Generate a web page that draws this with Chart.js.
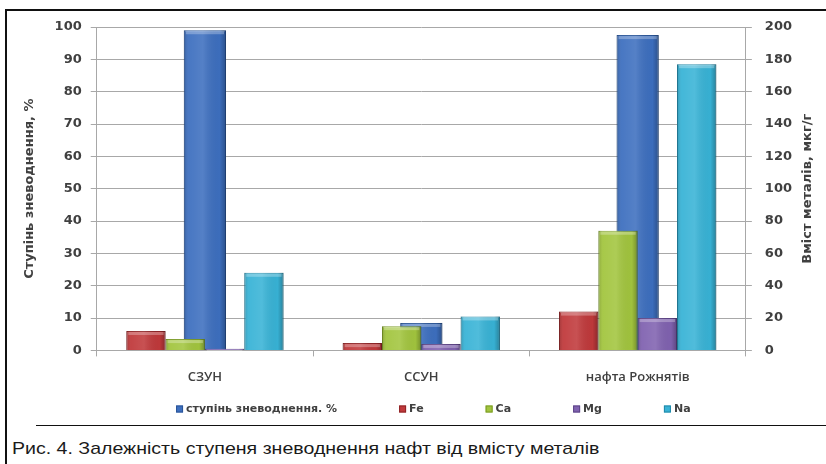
<!DOCTYPE html>
<html>
<head>
<meta charset="utf-8">
<script src="https://cdn.jsdelivr.net/npm/chart.js@4/dist/chart.umd.min.js"></script>
<style>
  html, body { margin: 0; padding: 0; background: #fff; }
  #page { position: relative; width: 826px; height: 464px; overflow: hidden; background: #fff; }
  #frameTop { position: absolute; left: 5px; top: 9px; width: 821px; height: 2px; background: #111; }
  #frameLeft { position: absolute; left: 5px; top: 9px; width: 2px; height: 455px; background: #111; }
  #sep { position: absolute; left: 36px; top: 425px; width: 790px; height: 1px; background: #111; }
  #box { position: absolute; left: 7px; top: 11px; width: 815px; height: 413px; }
  #caption { position: absolute; left: 12px; top: 440px; font-family: "Liberation Sans", Arial, sans-serif; font-size: 17px; line-height: 17px; color: #1a1a1a; white-space: nowrap; transform: scaleX(1.15); transform-origin: 0 0; }
</style>
</head>
<body>
<div id="page">
  <div id="frameTop"></div>
  <div id="frameLeft"></div>
  <div id="box"><canvas id="chart"></canvas></div>
  <div id="sep"></div>
  <div id="caption">Рис. 4. Залежність ступеня зневоднення нафт від вмісту металів</div>
</div>
<script>
// Samples
const categories = ['СЗУН', 'ССУН', 'нафта Рожнятів'];
// Degree of dehydration, % (left axis)
const dehydration = [99, 8.5, 97.5];
// Metal content, µg/g (right axis)
const fe = [12, 4.5, 24];
const ca = [7, 15, 74];
const mg = [1, 4, 20];
const na = [48, 21, 177];

const leftTicks = [0, 10, 20, 30, 40, 50, 60, 70, 80, 90, 100];
const rightTicks = [0, 20, 40, 60, 80, 100, 120, 140, 160, 180, 200];

const textColor = '#404040';
const gridColor = '#a8a8a8';
const wideFont = '"DejaVu Sans", "Liberation Sans", sans-serif';
const labelFont = '"Open Sans", "Liberation Sans", sans-serif';

// Keep the vertical axes from pushing the plot area down with their label gap
const fixVerticalPadding = (axis) => { axis.paddingTop = 16; axis.paddingBottom = 8; };

// Soft cylinder-like shading on each bar, applied right after its dataset is drawn
const barShading = {
  id: 'barShading',
  afterDatasetDraw(chart, args) {
    const { ctx } = chart;
    const meta = args.meta;
    ctx.save();
    meta.data.forEach((bar) => {
      const { x, y, base, width } = bar.getProps(['x', 'y', 'base', 'width'], true);
      const left = x - width / 2;
      const h = base - y;
      if (h <= 0) return;
      const g = ctx.createLinearGradient(left, 0, left + width, 0);
      g.addColorStop(0, 'rgba(0,0,0,0.18)');
      g.addColorStop(0.12, 'rgba(255,255,255,0.06)');
      g.addColorStop(0.45, 'rgba(255,255,255,0.12)');
      g.addColorStop(0.85, 'rgba(0,0,0,0.02)');
      g.addColorStop(1, 'rgba(0,0,0,0.28)');
      ctx.fillStyle = g;
      ctx.fillRect(left, y, width, h);
      const capH = Math.min(3, h);
      ctx.fillStyle = 'rgba(255,255,255,0.28)';
      ctx.fillRect(left + 2, y + 1, width - 4, capH);
    });
    ctx.restore();
  }
};

// Right axis title (reads bottom-to-top) and the legend row
const extras = {
  id: 'extras',
  afterDraw(chart) {
    const { ctx, chartArea } = chart;
    ctx.save();
    ctx.font = 'bold 13px ' + wideFont;
    ctx.fillStyle = textColor;
    ctx.textAlign = 'center';
    ctx.textBaseline = 'middle';
    ctx.translate(chart.width - 14, (chartArea.top + chartArea.bottom) / 2);
    ctx.rotate(-Math.PI / 2);
    ctx.fillText('Вміст металів, мкг/г', 0, 0);
    ctx.restore();

    ctx.save();
    ctx.font = 'bold 11px ' + wideFont;
    ctx.textBaseline = 'middle';
    ctx.textAlign = 'left';
    const box = 7, boxGap = 3, itemGap = 62;
    const items = chart.data.datasets.map((ds) => ({
      text: ds.label, fill: ds.backgroundColor, edge: ds.borderColor,
      w: box + boxGap + ctx.measureText(ds.label).width
    }));
    const total = items.reduce((s, it) => s + it.w, 0) + itemGap * (items.length - 1);
    let cx = (chartArea.left + chartArea.right) / 2 + 12 - total / 2;
    const cy = 398;
    items.forEach((it) => {
      ctx.fillStyle = it.fill;
      ctx.fillRect(cx, cy - box / 2, box, box);
      ctx.strokeStyle = it.edge;
      ctx.lineWidth = 1;
      ctx.strokeRect(cx + 0.5, cy - box / 2 + 0.5, box - 1, box - 1);
      ctx.fillStyle = textColor;
      ctx.fillText(it.text, cx + box + boxGap, cy);
      cx += it.w + itemGap;
    });
    ctx.restore();
  }
};

function metal(label, data, fill, edge) {
  return {
    label, data,
    yAxisID: 'y2',
    order: 0,
    backgroundColor: fill,
    borderColor: edge,
    borderWidth: 1,
    categoryPercentage: 0.727,
    barPercentage: 1
  };
}

new Chart(document.getElementById('chart'), {
  type: 'bar',
  data: {
    labels: categories,
    datasets: [
      {
        label: 'ступінь зневоднення. %',
        data: dehydration,
        yAxisID: 'y',
        order: 1,
        grouped: false,
        backgroundColor: '#3d6fbf',
        borderColor: '#2a5597',
        borderWidth: 1,
        categoryPercentage: 1,
        barPercentage: 0.195
      },
      metal('Fe', fe, '#c0393b', '#8e2426'),
      metal('Ca', ca, '#a2c53e', '#7a9a26'),
      metal('Mg', mg, '#8062b0', '#5d4486'),
      metal('Na', na, '#38b3d6', '#2288a8')
    ]
  },
  options: {
    responsive: true,
    maintainAspectRatio: false,
    animation: false,
    layout: { padding: { left: 8, right: 17, top: 2, bottom: 26 } },
    plugins: {
      tooltip: { enabled: false },
      legend: { display: false }
    },
    scales: {
      x: {
        offset: true,
        grid: {
          offset: true,
          drawOnChartArea: false,
          drawTicks: true,
          tickLength: 6,
          color: gridColor
        },
        border: { color: gridColor },
        ticks: {
          color: textColor,
          padding: 13,
          font: { family: labelFont, size: 13, weight: '600' }
        }
      },
      y: {
        position: 'left',
        min: 0, max: 100,
        afterBuildTicks: (axis) => { axis.ticks = leftTicks.map(v => ({ value: v })); },
        afterFit: fixVerticalPadding,
        grid: { color: gridColor, tickLength: 6 },
        border: { color: gridColor },
        ticks: {
          color: textColor,
          padding: 9,
          font: { family: wideFont, size: 13, weight: 'bold' }
        },
        title: {
          display: true,
          text: 'Ступінь зневоднення, %',
          color: textColor,
          padding: { top: 7, bottom: 8 },
          font: { family: wideFont, size: 13, weight: 'bold' }
        }
      },
      y2: {
        position: 'right',
        min: 0, max: 200,
        afterBuildTicks: (axis) => { axis.ticks = rightTicks.map(v => ({ value: v })); },
        afterFit: fixVerticalPadding,
        grid: { drawOnChartArea: false, color: gridColor, tickLength: 6 },
        border: { color: gridColor },
        ticks: {
          color: textColor,
          padding: 13,
          font: { family: wideFont, size: 13, weight: 'bold' }
        }
      }
    }
  },
  plugins: [barShading, extras]
});
</script>
</body>
</html>
